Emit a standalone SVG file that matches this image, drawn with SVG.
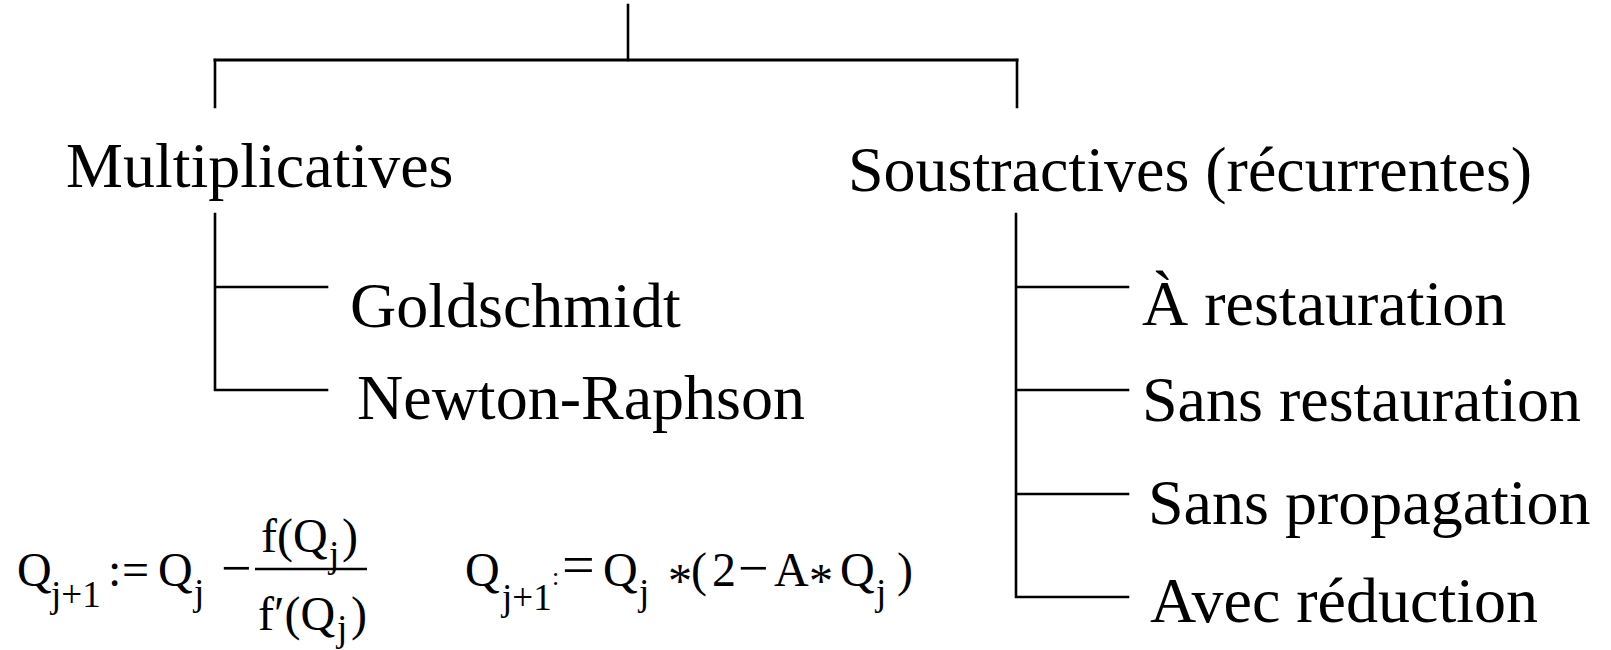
<svg xmlns="http://www.w3.org/2000/svg" width="1611" height="650" viewBox="0 0 1611 650">
<style>
  .ln { stroke: #000; stroke-width: 2.6; fill: none; stroke-linecap: square; }
  .lbl { font-family: "Liberation Serif", "Times New Roman", serif; font-size: 64px; fill: #000; }
  .m { font-family: "Liberation Serif", "Times New Roman", serif; font-size: 48px; fill: #000; }
  .s { font-family: "Liberation Serif", "Times New Roman", serif; font-size: 37px; fill: #000; }
  .ast { font-family: "Liberation Serif", "Times New Roman", serif; font-size: 48px; fill: #000; }
</style>
<rect width="1611" height="650" fill="#fff"/>
<g id="connectors">
  <path class="ln" d="M628 5 V60"/>
  <path class="ln" d="M215 60 H1017" style="stroke-width:3"/>
  <path class="ln" d="M215 60 V107 M1017 60 V107"/>
  <path class="ln" d="M215 214 V390 M215 287 H327 M215 390 H327"/>
  <path class="ln" d="M1016 214 V597 M1016 287 H1128 M1016 390 H1128 M1016 494 H1128 M1016 597 H1128"/>
</g>
<g id="multiplicatives"><text class="lbl" x="66" y="187">Multiplicatives</text></g>
<g id="soustractives"><text class="lbl" x="848" y="191">Soustractives (récurrentes)</text></g>
<g id="goldschmidt"><text class="lbl" x="350" y="327">Goldschmidt</text></g>
<g id="newton"><text class="lbl" x="357" y="419">Newton-Raphson</text></g>
<g id="a-restauration"><text class="lbl" x="1142" y="325">À restauration</text></g>
<g id="sans-restauration"><text class="lbl" x="1142" y="421">Sans restauration</text></g>
<g id="sans-propagation"><text class="lbl" x="1148" y="524">Sans propagation</text></g>
<g id="avec-reduction"><text class="lbl" x="1150" y="622">Avec réduction</text></g>
<g id="formula-newton">
  <text class="m" x="17" y="586">Q</text>
  <text class="s" x="51" y="607">j+1</text>
  <text class="m" x="108" y="586">:</text>
  <text class="m" x="122" y="586">=</text>
  <text class="m" x="158" y="586">Q</text>
  <text class="s" x="194" y="605">j</text>
  <text class="m" x="221" y="586" style="font-size:54px">−</text>
  <path d="M255 569 H367" stroke="#000" stroke-width="2.6"/>
  <text class="m" x="261" y="552">f(Q</text>
  <text class="s" x="329" y="567">j</text>
  <text class="m" x="342" y="552">)</text>
  <text class="m" x="258" y="630">f′(Q</text>
  <text class="s" x="337" y="641">j</text>
  <text class="m" x="351" y="630">)</text>
</g>
<g id="formula-goldschmidt">
  <text class="m" x="465" y="586">Q</text>
  <text class="s" x="502" y="610">j+1</text>
  <text class="m" x="552" y="585" style="font-size:26px">:</text>
  <text class="m" x="562" y="584" style="font-size:58px">=</text>
  <text class="m" x="603" y="586">Q</text>
  <text class="s" x="639" y="605">j</text>
  <text class="ast" x="668" y="597">*</text>
  <text class="m" x="691" y="586">(</text>
  <text class="m" x="712" y="586">2</text>
  <text class="m" x="738" y="586" style="font-size:54px">−</text>
  <text class="m" x="774" y="586">A</text>
  <text class="ast" x="809" y="597">*</text>
  <text class="m" x="840" y="586">Q</text>
  <text class="s" x="876" y="605">j</text>
  <text class="m" x="897" y="586">)</text>
</g>
</svg>
